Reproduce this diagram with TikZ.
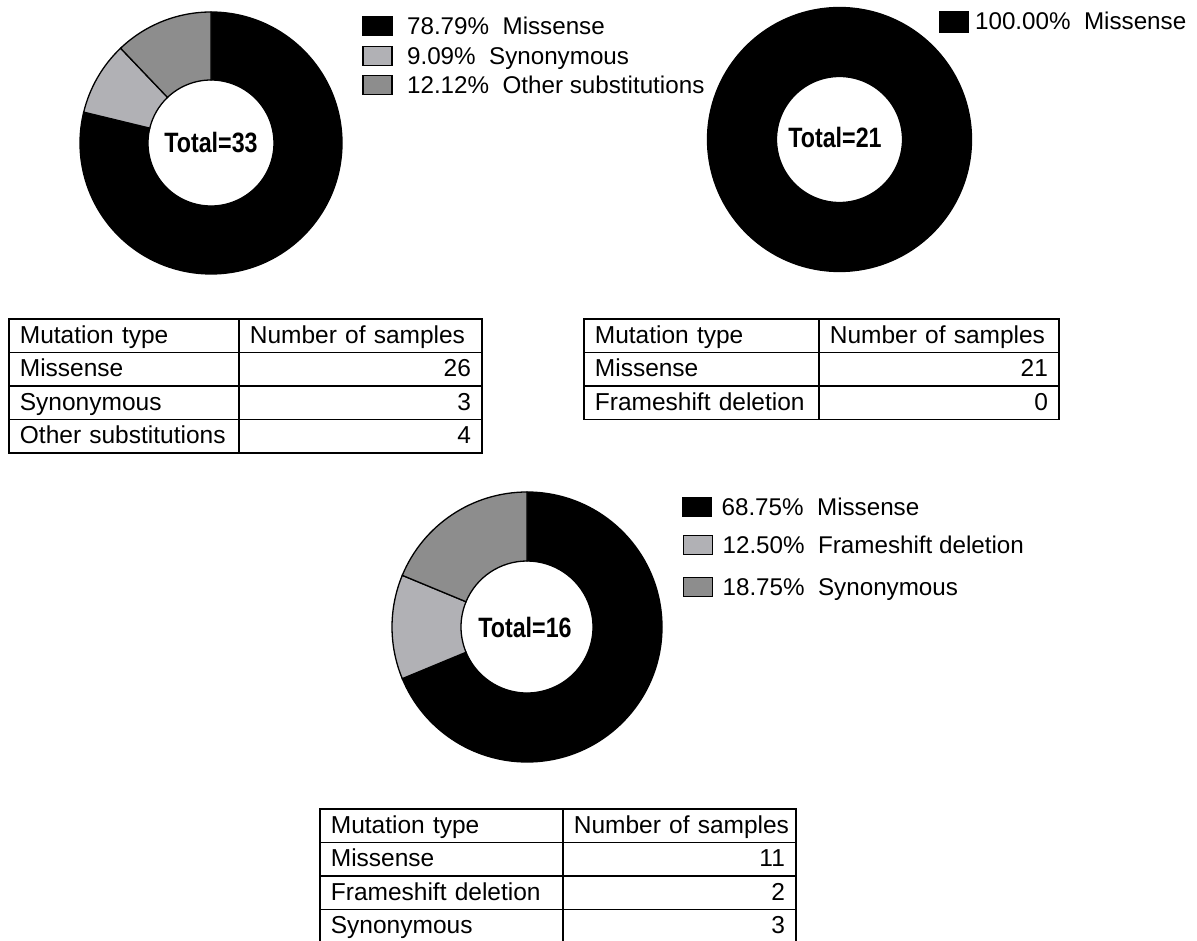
\documentclass[tikz,border=0pt]{standalone}
\usepackage{fontspec}
\setmainfont{Liberation Sans}
\usepackage{graphicx}
\usetikzlibrary{matrix,positioning,calc}
\definecolor{lightslice}{RGB}{177,177,181}
\definecolor{darkslice}{RGB}{141,141,141}
\newcommand{\tabfont}{\fontsize{24.5}{28}\selectfont}
\newcommand{\legfont}{\fontsize{24.2}{28}\selectfont}
\newcommand{\totfont}{\fontsize{28}{30}\selectfont\bfseries}
% one piece of a ring: centre, from, to, colour
\newcommand{\ringpart}[4]{%
  \filldraw[ringline, fill=#4] ($(#1)+(#2:\outR)$) arc[start angle=#2, end angle=#3, radius=\outR]
    -- ($(#1)+(#3:\inR)$) arc[start angle=#3, end angle=#2, radius=\inR] -- cycle;}

\begin{document}
\begin{tikzpicture}[x=1pt,y=1pt,
    ringline/.style={draw=black, line width=1.3pt},
    total/.style={font=\totfont, inner sep=0pt},
    legbox/.style={draw=black, line width=1.8pt, minimum width=29pt, minimum height=19pt, inner sep=0pt},
    legtext/.style={font=\legfont, inner sep=0pt, text height=17pt, text depth=0pt},
    cell/.style={draw, line width=1.4pt, font=\tabfont, inner xsep=11pt, inner ysep=0pt,
      text height=18pt, text depth=3pt, minimum height=33.5pt, align=left}]
\useasboundingbox (0,0) rectangle (1197,-941);

% first ring
\coordinate (cA) at (211,-143);
\def\outR{131}\def\inR{63}
\ringpart{cA}{90}{-193.64}{black}
\ringpart{cA}{166.36}{133.64}{lightslice}
\ringpart{cA}{133.64}{90}{darkslice}
\node[total] (totA) at (cA) {\scalebox{0.83}[1]{Total=33}};

\node[legbox, fill=black] (legA1) at (377.5,-26) {};
\node[legbox, fill=lightslice] (legA2) at (377.5,-56) {};
\node[legbox, fill=darkslice] (legA3) at (377.5,-85) {};
\node[legtext, right=14pt of legA1] {78.79\%~~Missense};
\node[legtext, right=14pt of legA2] {9.09\%~~Synonymous};
\node[legtext, right=14pt of legA3] {12.12\%~~Other substitutions};

% second ring
\coordinate (cB) at (839.5,-139.5);
\def\outR{132}\def\inR{63}
\filldraw[ringline, fill=black, even odd rule] (cB) circle[radius=\outR] (cB) circle[radius=\inR];
\node[total] (totB) at (835,-137) {\scalebox{0.83}[1]{Total=21}};

\node[legbox, fill=black, minimum height=21pt, line width=0.8pt] (legB1) at (954,-21.5) {};
\node[legtext, right=6pt of legB1] {100.00\%~~Missense};

% third ring
\coordinate (cC) at (527,-627);
\def\outR{135}\def\inR{66}
\ringpart{cC}{90}{-157.5}{black}
\ringpart{cC}{202.5}{157.5}{lightslice}
\ringpart{cC}{157.5}{90}{darkslice}
\node[total] (totC) at (525,-627) {\scalebox{0.83}[1]{Total=16}};

\node[legbox, fill=black] (legC1) at (697,-507) {};
\node[legbox, fill=lightslice] (legC2) at (698,-545) {};
\node[legbox, fill=darkslice] (legC3) at (698,-587) {};
\node[legtext, right=9pt of legC1] {68.75\%~~Missense};
\node[legtext, right=9pt of legC2] {12.50\%~~Frameshift deletion};
\node[legtext, right=9pt of legC3] {18.75\%~~Synonymous};

% tables
\matrix (tabA) [matrix of nodes, ampersand replacement=\&, anchor=north west, inner sep=0pt,
    row sep=-1.4pt, column sep=-1.4pt, nodes={cell},
    column 1/.style={nodes={text width=208pt}},
    column 2/.style={nodes={text width=221pt, align=right}},
    row 1 column 2/.style={nodes={align=left}}] at (8,-318)
{
  Mutation type \& Number of samples \\
  Missense \& 26 \\
  Synonymous \& 3 \\
  Other substitutions \& 4 \\
};

\matrix (tabB) [matrix of nodes, ampersand replacement=\&, anchor=north west, inner sep=0pt,
    row sep=-1.4pt, column sep=-1.4pt, nodes={cell},
    column 1/.style={nodes={text width=213pt}},
    column 2/.style={nodes={text width=218pt, align=right}},
    row 1 column 2/.style={nodes={align=left}}] at (583,-318)
{
  Mutation type \& Number of samples \\
  Missense \& 21 \\
  Frameshift deletion \& 0 \\
};

\matrix (tabC) [matrix of nodes, ampersand replacement=\&, anchor=north west, inner sep=0pt,
    row sep=-1.4pt, column sep=-1.4pt, nodes={cell},
    column 1/.style={nodes={text width=221pt}},
    column 2/.style={nodes={text width=211pt, align=right}},
    row 1 column 2/.style={nodes={align=left}}] at (319,-808)
{
  Mutation type \& \mbox{Number of samples} \\
  Missense \& 11 \\
  Frameshift deletion \& 2 \\
  Synonymous \& 3 \\
};
\end{tikzpicture}
\end{document}
